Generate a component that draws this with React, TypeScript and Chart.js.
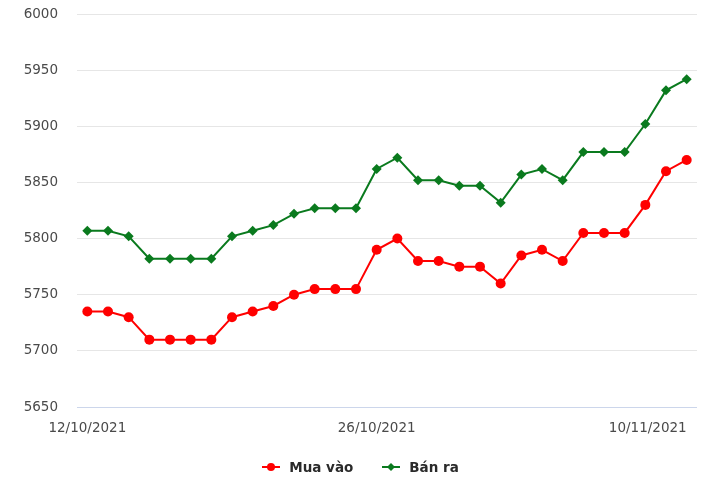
import React, { useEffect, useRef } from "react";
import { Chart, registerables } from "chart.js";

Chart.register(...registerables);

const dates = [
  "12/10/2021", "13/10/2021", "14/10/2021", "15/10/2021", "16/10/2021",
  "17/10/2021", "18/10/2021", "19/10/2021", "20/10/2021", "21/10/2021",
  "22/10/2021", "23/10/2021", "24/10/2021", "25/10/2021", "26/10/2021",
  "27/10/2021", "28/10/2021", "29/10/2021", "30/10/2021", "31/10/2021",
  "01/11/2021", "02/11/2021", "03/11/2021", "04/11/2021", "05/11/2021",
  "06/11/2021", "07/11/2021", "08/11/2021", "09/11/2021", "10/11/2021",
];

const muaVao = [
  5735, 5735, 5730, 5710, 5710, 5710, 5710, 5730, 5735, 5740,
  5750, 5755, 5755, 5755, 5790, 5800, 5780, 5780, 5775, 5775,
  5760, 5785, 5790, 5780, 5805, 5805, 5805, 5830, 5860, 5870,
];

const banRa = [
  5807, 5807, 5802, 5782, 5782, 5782, 5782, 5802, 5807, 5812,
  5822, 5827, 5827, 5827, 5862, 5872, 5852, 5852, 5847, 5847,
  5832, 5857, 5862, 5852, 5877, 5877, 5877, 5902, 5932, 5942,
];

const shownDateIndexes = [0, 14, 29];
const yMin = 5650;
const yMax = 6000;
const yStep = 50;

const seriesNames = ["Mua vào", "Bán ra"];
const RED = "#ff0000";
const GREEN = "#0a7a1e";
const FONT = "'DejaVu Sans', sans-serif";

export default function App() {
  const canvasRef = useRef<HTMLCanvasElement | null>(null);

  useEffect(() => {
    if (!canvasRef.current) return;
    const chart = new Chart(canvasRef.current, {
      type: "line",
      data: {
        labels: dates,
        datasets: [
          {
            label: seriesNames[0],
            data: muaVao,
            borderColor: RED,
            backgroundColor: RED,
            borderWidth: 2,
            pointStyle: "circle",
            pointRadius: 5,
            pointBorderWidth: 0,
            tension: 0,
          },
          {
            label: seriesNames[1],
            data: banRa,
            borderColor: GREEN,
            backgroundColor: GREEN,
            borderWidth: 2,
            pointStyle: "rectRot",
            pointRadius: 5,
            pointBorderWidth: 0,
            tension: 0,
          },
        ],
      },
      options: {
        animation: false,
        responsive: true,
        maintainAspectRatio: false,
        layout: { padding: { left: 0, top: 14, right: 23, bottom: 51 } },
        plugins: {
          legend: { display: false },
          tooltip: { enabled: false },
        },
        scales: {
          x: {
            type: "category",
            offset: true,
            grid: { display: false },
            border: { display: false },
            afterBuildTicks: (scale: any) => {
              scale.ticks = [{ value: 0 }].concat(
                shownDateIndexes.map((v) => ({ value: v }))
              );
            },
            afterFit: (scale: any) => {
              scale.height = 30;
              scale.paddingLeft = 0;
              scale.paddingRight = 0;
            },
            ticks: {
              autoSkip: false,
              maxRotation: 0,
              minRotation: 0,
              align: "inner",
              padding: 5,
              color: "#4a4a4a",
              font: { family: FONT, size: 13.5 },
              callback: function (value: any, index: number) {
                if (index === 0) return "";
                return dates[value as number];
              },
            },
          },
          y: {
            min: yMin,
            max: yMax,
            grid: {
              drawTicks: false,
              color: (ctx: any) =>
                ctx.tick && ctx.tick.value === yMin ? "#ccd6eb" : "#e6e6e6",
              lineWidth: 1,
            },
            border: { display: false },
            afterFit: (scale: any) => {
              scale.width = 77;
              scale.paddingTop = 0;
              scale.paddingBottom = 0;
            },
            ticks: {
              stepSize: yStep,
              padding: 19,
              color: "#4a4a4a",
              font: { family: FONT, size: 13.5 },
              callback: (value: any) => String(value),
            },
          },
        },
      },
    });
    return () => chart.destroy();
  }, []);

  const legendText: React.CSSProperties = {
    fontFamily: FONT,
    fontWeight: "bold",
    fontSize: 13.5,
    color: "#2a2a2a",
    marginLeft: 9,
  };

  return (
    <div
      style={{
        position: "absolute",
        left: 0,
        top: 0,
        width: 720,
        height: 488,
        background: "#fff",
      }}
    >
      <canvas ref={canvasRef} />
      <div
        style={{
          position: "absolute",
          left: 5,
          width: 711,
          top: 458,
          height: 18,
          display: "flex",
          justifyContent: "center",
          alignItems: "center",
        }}
      >
        <div style={{ display: "flex", alignItems: "center" }}>
          <svg width="18" height="10" viewBox="0 0 18 10">
            <line x1="0" y1="5" x2="18" y2="5" stroke={RED} strokeWidth="2" />
            <circle cx="9" cy="5" r="4" fill={RED} />
          </svg>
          <span style={legendText}>{seriesNames[0]}</span>
        </div>
        <div style={{ display: "flex", alignItems: "center", marginLeft: 29 }}>
          <svg width="18" height="10" viewBox="0 0 18 10">
            <line x1="0" y1="5" x2="18" y2="5" stroke={GREEN} strokeWidth="2" />
            <polygon points="9,1 13,5 9,9 5,5" fill={GREEN} />
          </svg>
          <span style={legendText}>{seriesNames[1]}</span>
        </div>
      </div>
    </div>
  );
}
